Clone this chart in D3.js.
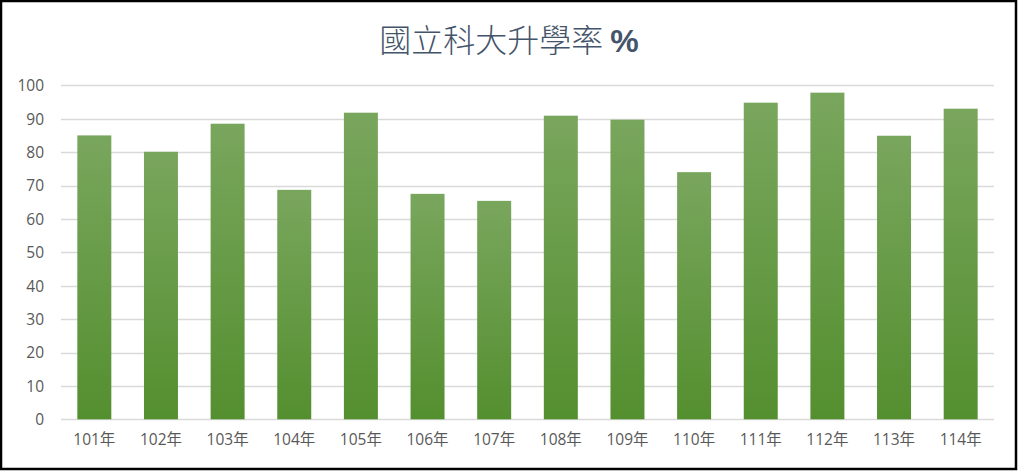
<!DOCTYPE html>
<html>
<head>
<meta charset="utf-8">
<script src="https://cdn.jsdelivr.net/npm/d3@7/dist/d3.min.js"></script>
<style>
html,body{margin:0;padding:0;background:#fff;}
svg{display:block;}
</style>
</head>
<body>
<svg id="chart" width="1018" height="471"></svg>
<script>
const titleMain = "國立科大升學率";
const titleSuffix = "%";
const categories = ["101年","102年","103年","104年","105年","106年","107年","108年","109年","110年","111年","112年","113年","114年"];
const values = [85.0, 80.1, 88.5, 68.7, 91.8, 67.5, 65.4, 90.9, 89.7, 74.0, 94.8, 97.8, 84.9, 93.0];
const yTicks = [0,10,20,30,40,50,60,70,80,90,100];

const W = 1018, H = 471;
const margin = {left: 61, right: 24, top: 86, bottom: 52};
const svg = d3.select("#chart");

svg.append("rect").attr("x",0).attr("y",0).attr("width",W).attr("height",H).attr("fill","#fff");

const defs = svg.append("defs");
const grad = defs.append("linearGradient").attr("id","barGrad")
  .attr("x1","0").attr("y1","0").attr("x2","0").attr("y2","1");
grad.append("stop").attr("offset","0%").attr("stop-color","#79a65d");
grad.append("stop").attr("offset","100%").attr("stop-color","#548f2f");

const x = d3.scaleBand().domain(categories)
  .range([margin.left, W - margin.right]).paddingInner(0.49).paddingOuter(0.245);
const y = d3.scaleLinear().domain([0,100]).range([419.3, 85.3]);

// gridlines
svg.append("g").selectAll("line").data(yTicks).join("line")
  .attr("x1", margin.left).attr("x2", W - margin.right)
  .attr("y1", d => Math.round(y(d)) + 0.5).attr("y2", d => Math.round(y(d)) + 0.5)
  .attr("stroke", "#d9d9d9").attr("stroke-width", 1.3);

// y axis labels
const yAxis = d3.axisLeft(y).tickValues(yTicks).tickSize(0).tickPadding(0);
const gy = svg.append("g").attr("transform", "translate(44,0)").call(yAxis);
gy.select(".domain").remove();
gy.selectAll("text").attr("font-family", "'Open Sans', 'Liberation Sans', sans-serif")
  .attr("font-size", 15.5).attr("fill", "#595959").attr("dy", "0.35em");

// bars
svg.append("g").selectAll("rect").data(values).join("rect")
  .attr("x", (d,i) => x(categories[i]))
  .attr("width", x.bandwidth())
  .attr("y", d => y(d))
  .attr("height", d => y(0) - y(d))
  .attr("fill", "url(#barGrad)");

// x axis labels
const xAxis = d3.axisBottom(x).tickSize(0).tickPadding(0);
const gx = svg.append("g").attr("transform", "translate(0,434)").call(xAxis);
gx.select(".domain").remove();
gx.selectAll("text").attr("font-family", "'Open Sans', 'Noto Sans CJK TC', sans-serif")
  .attr("font-size", 15.5).attr("fill", "#595959").attr("dy", "0.71em");

// title
const t = svg.append("text").attr("x", 509).attr("y", 52).attr("text-anchor", "middle")
  .attr("font-family", "'Noto Sans CJK TC', sans-serif")
  .attr("font-size", 32).attr("fill", "#44546a");
t.append("tspan").attr("font-weight", 300).text(titleMain + " ");
t.append("tspan").attr("font-weight", 700).attr("font-family", "'Liberation Sans', sans-serif").text(titleSuffix);

// frame
svg.append("rect").attr("x", 1).attr("y", 1).attr("width", 1015).attr("height", 468)
  .attr("fill", "none").attr("stroke", "#000").attr("stroke-width", 2.5);
</script>
</body>
</html>
